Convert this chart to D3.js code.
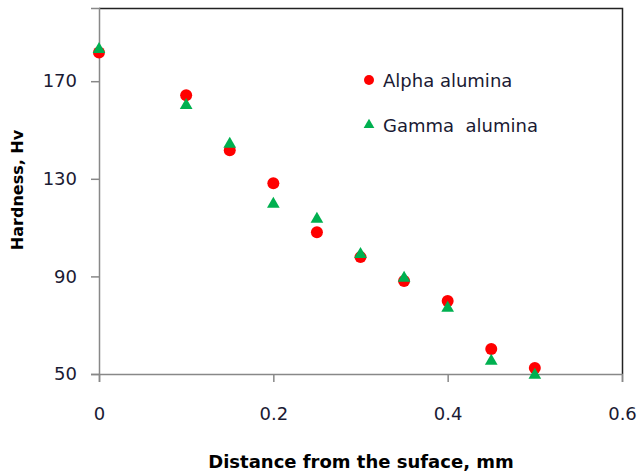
<!DOCTYPE html>
<html>
<head>
<meta charset="utf-8">
<script src="https://cdn.jsdelivr.net/npm/d3@7"></script>
<style>
  body { margin: 0; background: #fff; }
  svg { display: block; font-family: "DejaVu Sans", Verdana, sans-serif; }
</style>
</head>
<body>
<svg id="chart" width="637" height="474"></svg>
<script>
"use strict";

// Distance from the surface (mm)
const distance = [0, 0.1, 0.15, 0.2, 0.25, 0.3, 0.35, 0.4, 0.45, 0.5];
// Hardness values
const alphaHardness = [181.8, 164.2, 141.7, 128.2, 108.1, 97.9, 88.1, 79.9, 60.2, 52.5];
const gammaHardness = [183.5, 160.5, 144.6, 120.0, 113.9, 99.5, 89.7, 77.4, 55.7, 50.0];

const xTicks = [0, 0.2, 0.4, 0.6];
const yTicks = [50, 90, 130, 170];

const seriesNames = ['Alpha alumina', 'Gamma  alumina'];

const plot = { left: 99, top: 8, right: 622, bottom: 374 };

let svg = d3.select('#chart');

const x = d3.scaleLinear().domain([0, 0.6]).range([plot.left, plot.right]);
const y = d3.scaleLinear().domain([50, 200]).range([plot.bottom, plot.top]);

// Top and right border of the plot area
svg.append('path')
   .attr('d', `M${plot.left},${plot.top + 0.5}H${plot.right + 0.5}V${plot.bottom}`)
   .attr('fill', 'none')
   .attr('stroke', '#222')
   .attr('stroke-width', 1.5);

const xAxis = svg.append('g')
                 .attr('transform', `translate(0, ${plot.bottom})`)
                 .call(d3.axisBottom(x).tickValues(xTicks).tickSize(8).tickPadding(25)
                         .tickFormat(d => d === 0 ? '0' : d3.format('.1f')(d)));
const yAxis = svg.append('g')
                 .attr('transform', `translate(${plot.left}, 0)`)
                 .call(d3.axisLeft(y).tickValues(yTicks).tickSize(8).tickPadding(14));

for (let axis of [xAxis, yAxis]) {
  axis.selectAll('path, line').attr('stroke', '#888').attr('stroke-width', 1.5);
  axis.selectAll('text')
      .attr('fill', '#1a1a33')
      .style('font-size', '18px')
      .style('font-family', '"DejaVu Sans", Verdana, sans-serif');
}

// Alpha alumina: red circles
svg.append('g')
   .selectAll('circle')
   .data(distance)
   .enter()
   .append('circle')
   .attr('cx', d => x(d))
   .attr('cy', (d, i) => y(alphaHardness[i]))
   .attr('r', 6)
   .attr('fill', '#ff0000');

// Gamma alumina: green triangles, drawn on top
const tri = d3.symbol().type(d3.symbolTriangle).size(70);
svg.append('g')
   .selectAll('path')
   .data(distance)
   .enter()
   .append('path')
   .attr('d', tri)
   .attr('transform', (d, i) => `translate(${x(d)}, ${y(gammaHardness[i]) + 1})`)
   .attr('fill', '#00b050');

// Legend
let legend = svg.append('g').attr('transform', 'translate(369, 0)');
legend.append('circle').attr('cx', 0).attr('cy', 80).attr('r', 5).attr('fill', '#ff0000');
legend.append('path')
      .attr('d', d3.symbol().type(d3.symbolTriangle).size(50))
      .attr('transform', 'translate(0, 125)')
      .attr('fill', '#00b050');
legend.selectAll('text')
      .data(seriesNames)
      .enter()
      .append('text')
      .attr('x', 14)
      .attr('y', (d, i) => 87 + i * 45)
      .attr('fill', '#1a1a33')
      .style('font-size', '18px')
      .style('white-space', 'pre')
      .text(d => d);

// Axis titles
svg.append('text')
   .attr('x', 361)
   .attr('y', 468)
   .attr('text-anchor', 'middle')
   .attr('font-weight', 'bold')
   .style('font-size', '18px')
   .text('Distance from the suface, mm');

svg.append('text')
   .attr('transform', 'translate(23, 190) rotate(-90)')
   .attr('text-anchor', 'middle')
   .attr('font-weight', 'bold')
   .style('font-size', '16px')
   .text('Hardness, Hv');
</script>
</body>
</html>
